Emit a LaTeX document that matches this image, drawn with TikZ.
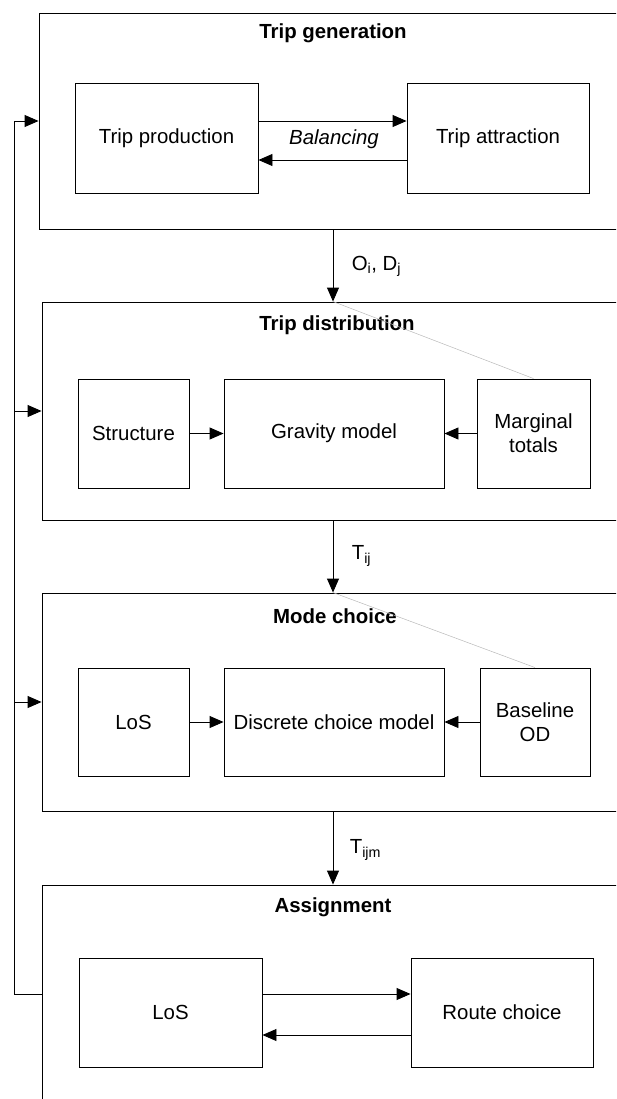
\documentclass[tikz,border=0pt]{standalone}
\usepackage{fontspec}
\setmainfont{Liberation Sans}
\usepackage{tikz}
\usepackage{xcolor}
\usetikzlibrary{arrows.meta}

\begin{document}
\begin{tikzpicture}
		[x=1pt,y=-1pt,line width=0.9pt,>={Triangle[length=14pt,width=12pt]},
		every node/.style={font=\fontsize{20.4}{24}\selectfont,align=center},
		stage/.style={draw,minimum width=#1,inner sep=0pt},
		box/.style={draw,minimum width=#1,minimum height=109pt,inner sep=0pt},
		title/.style={font=\fontsize{20.4}{24}\selectfont\bfseries},
		flow/.style={font=\fontsize{20.4}{24}\selectfont,anchor=west},
		hint/.style={draw=gray!55,line width=0.5pt}]
		\useasboundingbox (0,0) rectangle (616,1099);
		\clip (0,0) rectangle (616,1099);
		\node [stage=588pt,minimum height=216pt](gen) at (333,121) {};
		\node [title](gent) at (333,33) {Trip generation};
		\node [box=183pt,minimum height=110pt](tp) at (166.5,138) {Trip production};
		\node [box=182pt,minimum height=110pt](ta) at (498,138) {Trip attraction};
		\node (bal) at (334,139) {\itshape Balancing};
		\draw [->] ([yshift=17pt]tp.east) -- ([yshift=17pt]ta.west);
		\draw [->] ([yshift=-22pt]ta.west) -- ([yshift=-22pt]tp.east);
		\node [stage=582pt,minimum height=218pt](dist) at (333,411) {};
		\node [title](distt) at (337,325) {Trip distribution};
		\node [box=111pt](str) at (133.5,433.5) {Structure};
		\node [box=220pt](grav) at (334,433.5) {Gravity model};
		\node [box=113pt](marg) at (533.5,433.5) {Marginal\\totals};
		\draw [->] (str) -- (grav);
		\draw [->] (marg) -- (grav);
		\draw [hint] (dist.north) -- (marg.north);
		\node [stage=582pt,minimum height=218pt](mode) at (333,702) {};
		\node [title](modet) at (335,616) {Mode choice};
		\node [box=111pt,minimum height=108pt](los) at (133.5,722) {LoS};
		\node [box=220pt,minimum height=108pt](dcm) at (334,722) {Discrete choice model};
		\node [box=110pt,minimum height=108pt](base) at (535,722) {Baseline\\OD};
		\draw [->] (los) -- (dcm);
		\draw [->] (base) -- (dcm);
		\draw [hint] (mode.north) -- (base.north);
		\node [stage=582pt,minimum height=230pt](asg) at (333,1000) {};
		\node [title](asgt) at (333,907) {Assignment};
		\node [box=183pt](losb) at (170.5,1012.5) {LoS};
		\node [box=182pt](route) at (502,1012.5) {Route choice};
		\draw [->] ([yshift=18.5pt]losb.east) -- ([yshift=18.5pt]route.west);
		\draw [->] ([yshift=-22.5pt]route.west) -- ([yshift=-22.5pt]losb.east);
		\draw [->] (gen.south) -- (dist.north);
		\draw [->] (dist.south) -- (mode.north);
		\draw [->] (mode.south) -- (asg.north);
		\node [flow](od) at (348,266) {O\textsubscript{i}, D\textsubscript{j}};
		\node [flow](tij) at (348,556) {T\textsubscript{ij}};
		\node [flow](tijm) at (346,850) {T\textsubscript{ijm}};
		\coordinate (fb) at (14,994);
		\draw [->] (asg.west |- fb) -- (fb) -- (fb |- gen.west) -- (gen.west);
		\draw [->] (fb |- dist.west) -- (dist.west);
		\draw [->] (fb |- mode.west) -- (mode.west);
	\end{tikzpicture}
\end{document}
